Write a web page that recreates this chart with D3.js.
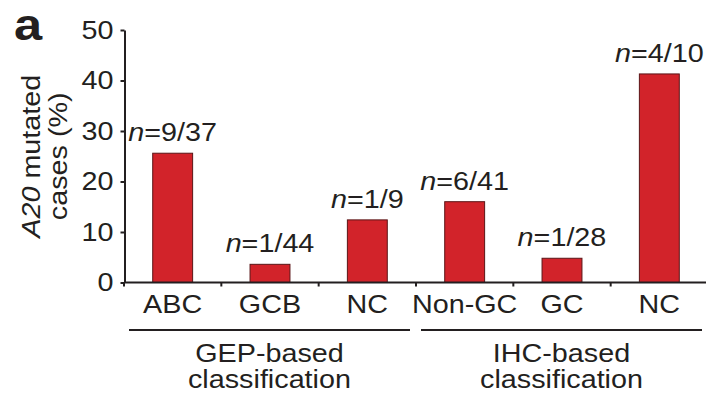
<!DOCTYPE html>
<html>
<head>
<meta charset="utf-8">
<script src="https://cdn.jsdelivr.net/npm/d3@7"></script>
<style>
html, body { margin: 0; padding: 0; background: #fff; }
svg { display: block; font-family: "Liberation Sans", Arial, Helvetica, sans-serif; }
</style>
</head>
<body>
<svg id="chart" width="706" height="396"></svg>
<script>
const categories = ['ABC', 'GCB', 'NC', 'Non-GC', 'GC', 'NC'];
const values = [25.6, 3.6, 12.4, 16.0, 4.8, 41.3];
const mutated = ['9', '1', '1', '6', '1', '4'];
const totals = ['37', '44', '9', '41', '28', '10'];
const groupNames = [['GEP-based', 'classification'], ['IHC-based', 'classification']];
const groupSpans = [[0, 2], [3, 5]];
const yTicks = [0, 10, 20, 30, 40, 50];

const ink = '#231f20',
    barFill = '#d2232a',
    barEdge = '#5a1517',
    fontSize = 25,
    widen = 1.15;

const svg = d3.select('#chart');

const x = d3.scaleBand()
    .domain(d3.range(categories.length))
    .range([124, 708])
    .paddingInner(0.59)
    .paddingOuter(0.295);
const y = d3.scaleLinear()
    .domain([0, 50])
    .range([282.5, 30]);
const gap = (x.step() - x.bandwidth()) / 2,
    bw = x.bandwidth();

//Stretch text horizontally about its own anchor point.
function widenText(sel) {
    sel.each(function() {
        const t = d3.select(this),
            tx = +t.attr('x') || 0,
            ty = +t.attr('y') || 0;
        t.attr('transform', `translate(${tx},${ty}) scale(${widen},1) translate(${-tx},${-ty})`);
    });
}

//Panel letter.
svg.append('text')
    .attr('x', 14)
    .attr('y', 40)
    .attr('font-size', 44)
    .attr('font-weight', 'bold')
    .attr('fill', ink)
    .text('a')
    .call(widenText);

//Bars.
svg.append('g')
    .selectAll('rect')
    .data(values)
    .join('rect')
    .attr('x', (d, i) => x(i))
    .attr('y', d => y(d))
    .attr('width', bw)
    .attr('height', d => y(0) - y(d))
    .attr('fill', barFill)
    .attr('stroke', barEdge)
    .attr('stroke-width', 1);

//Y axis.
const yAxis = svg.append('g')
    .attr('transform', 'translate(124.5,0)')
    .call(d3.axisLeft(y).tickValues(yTicks).tickSize(4).tickSizeOuter(0).tickPadding(7));
yAxis.select('.domain').attr('stroke', ink).attr('stroke-width', 2);
yAxis.selectAll('.tick line').attr('stroke', ink).attr('stroke-width', 2);
yAxis.selectAll('.tick text')
    .attr('font-size', fontSize)
    .attr('font-family', '"Liberation Sans", Arial, sans-serif')
    .attr('fill', ink)
    .call(widenText);

//Baseline with ticks at the band edges.
svg.append('line')
    .attr('x1', 124).attr('x2', 706)
    .attr('y1', y(0)).attr('y2', y(0))
    .attr('stroke', ink).attr('stroke-width', 2);
svg.append('g')
    .selectAll('line')
    .data(categories)
    .join('line')
    .attr('x1', (d, i) => x(i) - gap)
    .attr('x2', (d, i) => x(i) - gap)
    .attr('y1', y(0))
    .attr('y2', y(0) + 4)
    .attr('stroke', ink).attr('stroke-width', 2);

//n labels above bars.
const nText = svg.append('g')
    .selectAll('text')
    .data(values)
    .join('text')
    .attr('x', (d, i) => x(i) + bw / 2)
    .attr('y', d => y(d) - 12)
    .attr('text-anchor', 'middle')
    .attr('font-size', fontSize)
    .attr('fill', ink);
nText.append('tspan').attr('font-style', 'italic').text('n');
nText.append('tspan').text((d, i) => `=${mutated[i]}/${totals[i]}`);
nText.call(widenText);

//Category labels.
svg.append('g')
    .selectAll('text')
    .data(categories)
    .join('text')
    .attr('x', (d, i) => x(i) + bw / 2)
    .attr('y', 313)
    .attr('text-anchor', 'middle')
    .attr('font-size', fontSize)
    .attr('fill', ink)
    .text(d => d)
    .call(widenText);

//Group brackets and labels.
groupSpans.forEach((s, gi) => {
    const x1 = x(s[0]) - gap + 5,
        x2 = x(s[1]) + bw + gap - 6,
        cx = (x1 + x2) / 2;
    svg.append('line')
        .attr('x1', x1).attr('x2', x2)
        .attr('y1', 330).attr('y2', 330)
        .attr('stroke', ink).attr('stroke-width', 2);
    groupNames[gi].forEach((line, li) => {
        svg.append('text')
            .attr('x', cx)
            .attr('y', 362 + li * 26)
            .attr('text-anchor', 'middle')
            .attr('font-size', fontSize)
            .attr('fill', ink)
            .text(line)
            .call(widenText);
    });
});

//Y axis title.
const yTitle = svg.append('g')
    .attr('transform', `translate(40,${(y(0) + y(50)) / 2}) rotate(-90)`);
const t1 = yTitle.append('text')
    .attr('x', 0).attr('y', 0)
    .attr('text-anchor', 'middle')
    .attr('font-size', fontSize)
    .attr('fill', ink);
t1.append('tspan').attr('font-style', 'italic').text('A20');
t1.append('tspan').text(' mutated');
yTitle.append('text')
    .attr('x', 0).attr('y', 27)
    .attr('text-anchor', 'middle')
    .attr('font-size', fontSize)
    .attr('fill', ink)
    .text('cases (%)');
yTitle.selectAll('text').call(widenText);
</script>
</body>
</html>
